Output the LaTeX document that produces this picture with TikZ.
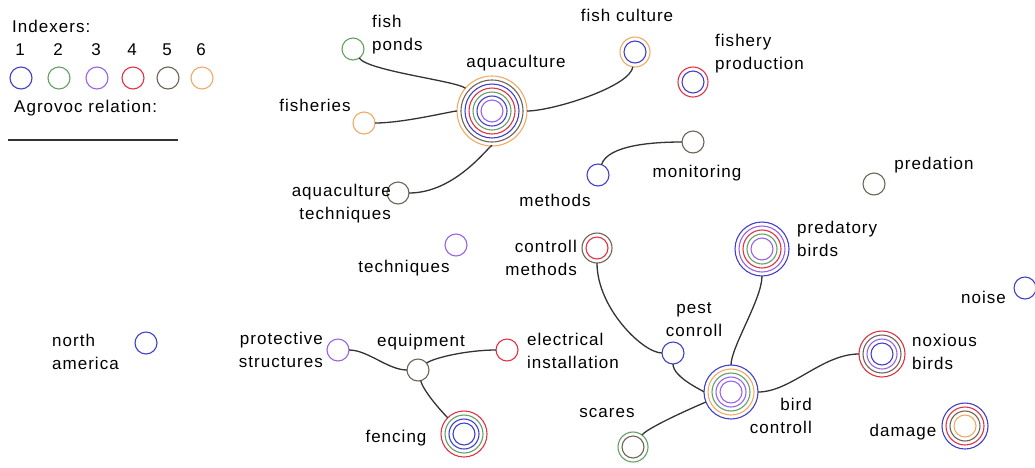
\documentclass[tikz,border=0pt]{standalone}
\usepackage{fontspec}
\setmainfont{Liberation Sans}[LetterSpace=6]
\definecolor{ixblue}{RGB}{64,64,200}
\definecolor{ixgreen}{RGB}{100,160,100}
\definecolor{ixviolet}{RGB}{150,100,230}
\definecolor{ixred}{RGB}{225,50,70}
\definecolor{ixbrown}{RGB}{110,100,85}
\definecolor{ixorange}{RGB}{240,170,100}
\newcommand{\lblfont}{\fontsize{17}{23}\selectfont}
\tikzset{
  ring/.style = {line width=1.1pt},
  hub/.style  = {circle, inner sep=0pt, outer sep=0pt},
  lbl/.style  = {font=\lblfont, inner sep=0pt},
  rel/.style  = {line width=1.3pt, black!80},
}
% a term: rings from inside out, one per indexer
\newcommand{\term}[3]{%
  \foreach \c [count=\i] in {#3}{
    \draw[ring, draw=\c] (#2) circle ({7+4*\i});
    \node[hub, minimum size={(14+8*\i)*1pt}] (#1) at (#2) {};
  }}

\begin{document}
\begin{tikzpicture}[x=1pt,y=-1pt]
  \useasboundingbox (0,0) rectangle (1035,467);

  \node[lbl, anchor=west] (indexers) at (12,26) {Indexers:};
  \foreach \n/\x/\c in {1/21/ixblue,2/59/ixgreen,3/97/ixviolet,4/133/ixred,5/168/ixbrown,6/202/ixorange}{
    \node[lbl] (num\n) at (\x-1,50) {\n};
    \node[hub, ring, draw=\c, minimum size=22pt] (key\n) at (\x,78) {};
  }
  \node[lbl, anchor=west] (agrovoc) at (14,108) {Agrovoc relation:};
  \coordinate (relA) at (8,140);
  \coordinate (relB) at (178,140);
  \draw[rel] (relA) -- (relB);

  \term{fishponds}{353,49}{ixgreen}
  \term{aquaculture}{492,111}{ixviolet,ixblue,ixgreen,ixred,ixblue,ixbrown,ixorange}
  \term{fisheries}{364,123}{ixorange}
  \term{aqtech}{398,193}{ixbrown}
  \term{fishculture}{635,52}{ixblue,ixorange}
  \term{fisheryprod}{693,82}{ixblue,ixred}
  \term{monitoring}{693,142}{ixbrown}
  \term{methods}{598,175}{ixblue}
  \term{predation}{874,184}{ixbrown}
  \term{techniques}{456,245}{ixviolet}
  \term{ctrlmethods}{597,248}{ixred,ixbrown}
  \term{predbirds}{762,249}{ixviolet,ixgreen,ixred,ixviolet,ixblue}
  \term{pestconroll}{673,353}{ixblue}
  \term{birdctrl}{731,392}{ixviolet,ixviolet,ixgreen,ixorange,ixblue}
  \term{scares}{633,447}{ixbrown,ixgreen}
  \term{noxious}{882,354}{ixblue,ixviolet,ixbrown,ixred}
  \term{noise}{1025,288}{ixblue}
  \term{damage}{965,426}{ixorange,ixbrown,ixred,ixblue}
  \term{northam}{146,343}{ixblue}
  \term{protective}{338,350}{ixviolet}
  \term{equipment}{418,370}{ixbrown}
  \term{electrical}{507,350}{ixred}
  \term{fencing}{464,434}{ixblue,ixblue,ixgreen,ixred}

  \node[lbl, anchor=west, align=left] (lfishponds) at (372,35) {fish\\ponds};
  \node[lbl] (laquaculture) at (516,63) {aquaculture};
  \node[lbl] (lfisheries) at (315,105) {fisheries};
  \node[lbl, anchor=east, align=right] (laqtech) at (391,204) {aquaculture\\techniques};
  \node[lbl] (lfishculture) at (627,15) {fish culture};
  \node[lbl, anchor=west, align=left] (lfisheryprod) at (715,54) {fishery\\production};
  \node[lbl] (lmonitoring) at (697,173) {monitoring};
  \node[lbl] (lmethods) at (555,200) {methods};
  \node[lbl] (lpredation) at (934,165) {predation};
  \node[lbl] (ltechniques) at (404,268) {techniques};
  \node[lbl, anchor=east, align=right] (lctrlmethods) at (577,258) {controll\\methods};
  \node[lbl, anchor=west, align=left] (lpredbirds) at (797,239) {predatory\\birds};
  \node[lbl, align=center] (lpestconroll) at (694,320) {pest\\conroll};
  \node[lbl, anchor=east, align=right] (lbirdctrl) at (812,416) {bird\\controll};
  \node[lbl] (lscares) at (607,413) {scares};
  \node[lbl, anchor=west, align=left] (lnoxious) at (912,352) {noxious\\birds};
  \node[lbl, anchor=east] (lnoise) at (1006,297) {noise};
  \node[lbl] (ldamage) at (903,432) {damage};
  \node[lbl, anchor=west, align=left] (lnortham) at (52,352) {north\\america};
  \node[lbl, anchor=east, align=right] (lprotective) at (323,350) {protective\\structures};
  \node[lbl] (lequipment) at (421,342) {equipment};
  \node[lbl, anchor=west, align=left] (lelectrical) at (527,351) {electrical\\installation};
  \node[lbl] (lfencing) at (396,438) {fencing};

  \draw[rel] (fishponds) .. controls +(15,22) and +(-35,-30) .. (aquaculture);
  \draw[rel] (fisheries) .. controls +(40,0) and +(-40,0) .. (aquaculture);
  \draw[rel] (aqtech) .. controls +(60,0) and +(0,30) .. (aquaculture);
  \draw[rel] (aquaculture) .. controls +(60,0) and +(-5,35) .. (fishculture);
  \draw[rel] (methods) .. controls +(10,-30) and +(-40,0) .. (monitoring);
  \draw[rel] (ctrlmethods) .. controls +(0,60) and +(-30,0) .. (pestconroll);
  \draw[rel] (pestconroll) .. controls +(0,25) and +(-25,0) .. (birdctrl);
  \draw[rel] (predbirds) .. controls +(0,50) and +(0,-45) .. (birdctrl);
  \draw[rel] (birdctrl) .. controls +(60,0) and +(-60,0) .. (noxious);
  \draw[rel] (scares) .. controls +(15,-20) and +(-30,12) .. (birdctrl);
  \draw[rel] (protective) .. controls +(30,0) and +(-30,0) .. (equipment);
  \draw[rel] (equipment) .. controls +(15,-12) and +(-40,0) .. (electrical);
  \draw[rel] (equipment) .. controls +(5,20) and +(-25,-25) .. (fencing);
\end{tikzpicture}
\end{document}
